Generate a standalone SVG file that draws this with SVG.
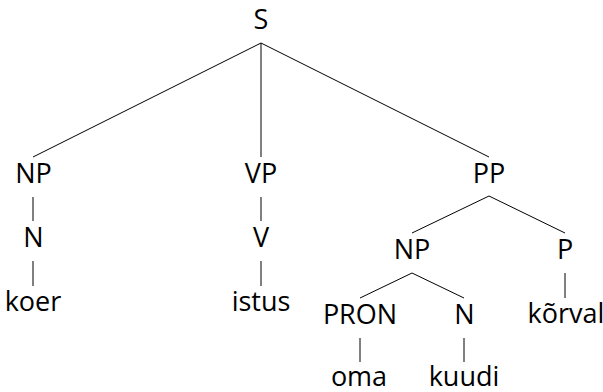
<svg xmlns="http://www.w3.org/2000/svg" width="603" height="392" viewBox="0 0 603 392">
<style>
text { font-family: "Open Sans", "Liberation Sans", sans-serif; font-size: 27px; fill: #000; text-anchor: middle; }
.edge { stroke: #000; stroke-width: 1; fill: none; }
</style>
<rect width="603" height="392" fill="#fff"/>
<g id="connectors">
<line class="edge" x1="261" y1="43" x2="33" y2="157"/>
<line class="edge" x1="261" y1="43" x2="261" y2="157"/>
<line class="edge" x1="261" y1="43" x2="489" y2="157"/>
<line class="edge" x1="33" y1="197" x2="33" y2="221"/>
<line class="edge" x1="33" y1="261" x2="33" y2="286"/>
<line class="edge" x1="261" y1="197" x2="261" y2="221"/>
<line class="edge" x1="261" y1="261" x2="261" y2="286"/>
<line class="edge" x1="489" y1="196" x2="412" y2="233"/>
<line class="edge" x1="489" y1="196" x2="565" y2="233"/>
<line class="edge" x1="412" y1="273" x2="360" y2="298"/>
<line class="edge" x1="412" y1="273" x2="464" y2="298"/>
<line class="edge" x1="565" y1="273" x2="565" y2="298"/>
<line class="edge" x1="360" y1="338" x2="360" y2="362"/>
<line class="edge" x1="464" y1="338" x2="464" y2="362"/>
</g>
<g id="S"><text x="261" y="29">S</text></g>
<g id="NP1"><text x="33.5" y="183">NP</text></g>
<g id="VP"><text x="261" y="183">VP</text></g>
<g id="PP"><text x="489" y="183">PP</text></g>
<g id="N1"><text x="33.5" y="247">N</text></g>
<g id="V"><text x="261" y="247">V</text></g>
<g id="koer"><text x="33" y="311">koer</text></g>
<g id="istus"><text x="261" y="311">istus</text></g>
<g id="NP2"><text x="412" y="259">NP</text></g>
<g id="P"><text x="565" y="259">P</text></g>
<g id="korval"><text x="566" y="323">kõrval</text></g>
<g id="PRON"><text x="360" y="324">PRON</text></g>
<g id="N2"><text x="464.5" y="324">N</text></g>
<g id="oma"><text x="359" y="386">oma</text></g>
<g id="kuudi"><text x="464" y="386">kuudi</text></g>
</svg>
